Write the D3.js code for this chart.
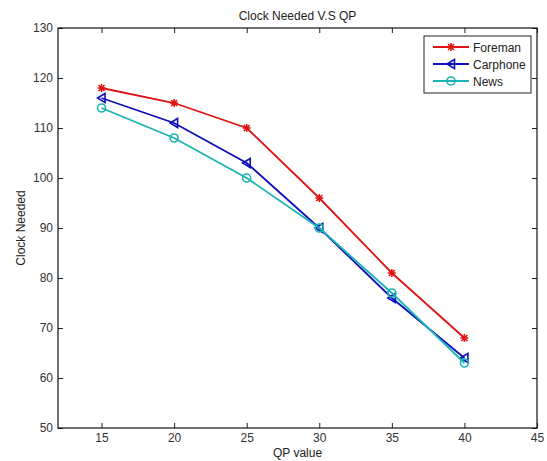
<!DOCTYPE html>
<html>
<head>
<meta charset="utf-8">
<script src="https://cdn.jsdelivr.net/npm/d3@7"></script>
<style>
  body { margin: 0; background: #fff; overflow: hidden; }
  svg { display: block; }
  text { font-family: "Liberation Sans", Arial, sans-serif; }
</style>
</head>
<body>
<svg id="chart"></svg>
<script>
const qp = [15, 20, 25, 30, 35, 40];
const foreman = [118, 115, 110, 96, 81, 68];
const carphone = [116, 111, 103, 90, 76, 64];
const news = [114, 108, 100, 90, 77, 63];
const xTicks = [15, 20, 25, 30, 35, 40, 45];
const yTicks = [50, 60, 70, 80, 90, 100, 110, 120, 130];

const width = 547, height = 461;
const margin = { top: 28, right: 10, bottom: 33, left: 58 };
const innerWidth = width - margin.left - margin.right;
const innerHeight = height - margin.top - margin.bottom;

const svg = d3.select("#chart").attr("width", width).attr("height", height);
const g = svg.append("g").attr("transform", `translate(${margin.left},${margin.top})`);

const x = d3.scaleLinear().domain([12, 45]).range([0, innerWidth]);
const y = d3.scaleLinear().domain([50, 130]).range([innerHeight, 0]);

// box with inward ticks on every side, matlab style
const tickLen = 5;
function styleAxis(sel) {
  sel.select(".domain").remove();
  sel.selectAll("line").attr("stroke", "#222");
  sel.selectAll("text").attr("fill", "#333").style("font-size", "12px");
}
g.append("g").attr("transform", `translate(0,${innerHeight})`)
  .call(d3.axisBottom(x).tickValues(xTicks).tickSizeInner(-tickLen).tickSizeOuter(0).tickPadding(5))
  .call(styleAxis);
g.append("g")
  .call(d3.axisTop(x).tickValues(xTicks).tickSizeInner(-tickLen).tickSizeOuter(0))
  .call(styleAxis)
  .call(a => a.selectAll("text").remove());
g.append("g")
  .call(d3.axisLeft(y).tickValues(yTicks).tickSizeInner(-tickLen).tickSizeOuter(0).tickPadding(5))
  .call(styleAxis);
g.append("g").attr("transform", `translate(${innerWidth},0)`)
  .call(d3.axisRight(y).tickValues(yTicks).tickSizeInner(-tickLen).tickSizeOuter(0))
  .call(styleAxis)
  .call(a => a.selectAll("text").remove());
g.append("rect")
  .attr("width", innerWidth).attr("height", innerHeight)
  .attr("fill", "none").attr("stroke", "#111").attr("stroke-width", 1.2);

// titles
svg.append("text").attr("x", margin.left + innerWidth / 2).attr("y", 20)
  .attr("text-anchor", "middle").style("font-size", "12px").attr("fill", "#222")
  .text("Clock Needed V.S QP");
svg.append("text").attr("x", margin.left + innerWidth / 2).attr("y", 457)
  .attr("text-anchor", "middle").style("font-size", "12px").attr("fill", "#222")
  .text("QP value");
svg.append("text")
  .attr("transform", `translate(25,${margin.top + innerHeight / 2}) rotate(-90)`)
  .attr("text-anchor", "middle").style("font-size", "12px").attr("fill", "#222")
  .text("Clock Needed");

// marker shapes
const markers = {
  star: "M-4,0H4M0,-4V4M-3,-3L3,3M-3,3L3,-3",
  tri: "M-4,0L3.5,-4.5L3.5,4.5Z",
  circle: "M4,0A4,4 0 1,1 -4,0A4,4 0 1,1 4,0"
};

const series = [
  { name: "Foreman", values: foreman, color: "#e01414", marker: "star" },
  { name: "Carphone", values: carphone, color: "#1010b8", marker: "tri" },
  { name: "News", values: news, color: "#1bb4b4", marker: "circle" }
];

const line = d3.line().x(d => x(d[0])).y(d => y(d[1]));

series.forEach(s => {
  const pts = qp.map((q, i) => [q, s.values[i]]);
  g.append("path").datum(pts)
    .attr("d", line).attr("fill", "none")
    .attr("stroke", s.color).attr("stroke-width", 1.8);
  g.selectAll(null).data(pts).enter().append("path")
    .attr("transform", d => `translate(${x(d[0])},${y(d[1])})`)
    .attr("d", markers[s.marker])
    .attr("fill", "none").attr("stroke", s.color).attr("stroke-width", 1.6);
});

// legend
const legend = svg.append("g").attr("transform", "translate(424,36)");
legend.append("rect").attr("width", 107).attr("height", 57)
  .attr("fill", "#fff").attr("stroke", "#222").attr("stroke-width", 1);
series.forEach((s, i) => {
  const row = legend.append("g").attr("transform", `translate(0,${11 + i * 17})`);
  row.append("line").attr("x1", 9).attr("x2", 45).attr("stroke", s.color).attr("stroke-width", 1.8);
  row.append("path").attr("transform", "translate(27,0)").attr("d", markers[s.marker])
    .attr("fill", "none").attr("stroke", s.color).attr("stroke-width", 1.6);
  row.append("text").attr("x", 49).attr("y", 4.5).style("font-size", "12px")
    .attr("fill", "#222").text(s.name);
});
</script>
</body>
</html>
